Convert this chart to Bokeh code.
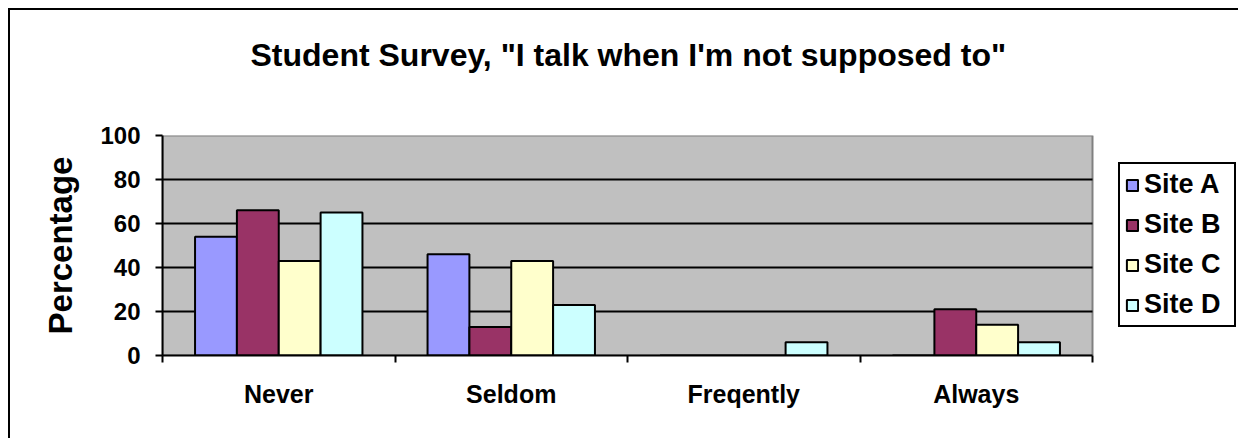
from bokeh.plotting import figure
from bokeh.models import (Range1d, LinearAxis, FixedTicker, Legend, LegendItem,
                          ColumnDataSource, Title)
from bokeh.transform import dodge
from bokeh.embed import file_html
from bokeh.resources import INLINE

# Survey answers per site (percent of students)
categories = ["Never", "Seldom", "Freqently", "Always"]
sites = ["Site A", "Site B", "Site C", "Site D"]
site_a = [54, 46, 0, 0]
site_b = [66, 13, 0, 21]
site_c = [43, 43, 0, 14]
site_d = [65, 23, 6, 6]
y_ticks = [0, 20, 40, 60, 80, 100]
grid_levels = [20, 40, 60, 80]

colors = ["#9999FF", "#993366", "#FFFFCC", "#CCFFFF"]
FONT = "Liberation Sans"
n = len(categories)

# Canvas layout (px): the frame runs on to the right so the legend can sit
# inside it, beside the grey plotting area that holds the categories.
CANVAS_W, CANVAS_H = 1230, 430
LEFT, RIGHT, TOP, BOTTOM = 152, 4, 125, 85
AREA_PX = 930                       # width of the grey plotting area
frame_px = CANVAS_W - LEFT - RIGHT
x_end = n * frame_px / AREA_PX

# each category occupies one unit slot on the x axis; its centre is at i + 0.5
centers = [i + 0.5 for i in range(n)]
source = ColumnDataSource(data=dict(pos=centers, a=site_a, b=site_b, c=site_c, d=site_d))

p = figure(
    width=CANVAS_W, height=CANVAS_H,
    x_range=Range1d(0, x_end),
    y_range=Range1d(0, 100),
    x_axis_location=None, y_axis_location=None,
    output_backend="svg", toolbar_location=None,
    min_border_left=LEFT, min_border_right=RIGHT,
    min_border_top=TOP, min_border_bottom=BOTTOM,
    background_fill_color="white",
    outline_line_color=None,
)
p.margin = (8, 0, 0, 8)
p.styles = {"border-top": "2px solid black", "border-left": "2px solid black"}

# Heading, with a blank spacer panel between it and the frame
p.title.text = "Student Survey, \"I talk when I'm not supposed to\""
p.title.align = "left"
p.title.offset = 88
p.title.standoff = 0
p.title.text_color = "black"
p.title.text_font = FONT
p.title.text_font_style = "bold"
p.title.text_font_size = "32px"
spacer = Title(text=" ", text_font_size="1px", standoff=60)
p.add_layout(spacer, "above")

# Grey plotting area and its grid lines
p.quad(left=0, right=n, bottom=y_ticks[0], top=y_ticks[-1],
       fill_color="#C0C0C0", line_color="#808080", line_width=2)
p.segment(x0=[0] * len(grid_levels), x1=[n] * len(grid_levels),
          y0=grid_levels, y1=grid_levels, line_color="black", line_width=2)
p.xgrid.grid_line_color = None
p.ygrid.grid_line_color = None

# Bars, four per category
offsets = [-0.27, -0.09, 0.09, 0.27]
renderers = []
for col, off, color in zip(["a", "b", "c", "d"], offsets, colors):
    r = p.vbar(x=dodge("pos", off), top=col, width=0.18,
               source=source, fill_color=color, line_color="black", line_width=2)
    renderers.append(r)

# Y axis
yaxis = LinearAxis(ticker=FixedTicker(ticks=y_ticks))
yaxis.axis_label = "Percentage"
yaxis.axis_label_text_color = "black"
yaxis.axis_label_text_font = FONT
yaxis.axis_label_text_font_style = "bold"
yaxis.axis_label_text_font_size = "33px"
yaxis.axis_label_standoff = 18
yaxis.major_label_text_color = "black"
yaxis.major_label_text_font = FONT
yaxis.major_label_text_font_style = "bold"
yaxis.major_label_text_font_size = "24px"
yaxis.major_label_standoff = 15
yaxis.major_tick_out = 7
yaxis.major_tick_in = 0
yaxis.major_tick_line_width = 2
yaxis.minor_tick_line_color = None
yaxis.axis_line_width = 2
p.add_layout(yaxis, "left")

# Tick marks on the slot boundaries
tick_axis = LinearAxis(ticker=FixedTicker(ticks=list(range(n + 1))), bounds=(0, n))
tick_axis.major_label_text_font_size = "0px"
tick_axis.major_label_text_color = None
tick_axis.major_tick_out = 7
tick_axis.major_tick_in = 0
tick_axis.major_tick_line_width = 2
tick_axis.minor_tick_line_color = None
tick_axis.axis_line_width = 2
p.add_layout(tick_axis, "below")

# Category names at the slot centres
cat_axis = LinearAxis(ticker=FixedTicker(ticks=centers),
                      major_label_overrides={c: name for c, name in zip(centers, categories)})
cat_axis.axis_line_color = None
cat_axis.major_tick_line_color = None
cat_axis.minor_tick_line_color = None
cat_axis.major_label_text_color = "black"
cat_axis.major_label_text_font = FONT
cat_axis.major_label_text_font_style = "bold"
cat_axis.major_label_text_font_size = "25px"
cat_axis.major_label_standoff = 11
p.add_layout(cat_axis, "below")

# Legend to the right of the grey area
legend = Legend(
    items=[LegendItem(label=s, renderers=[r]) for s, r in zip(sites, renderers)],
    location=(AREA_PX + 26, 28), margin=0,
    label_text_color="black",
    label_text_font=FONT, label_text_font_style="bold", label_text_font_size="27px",
    glyph_width=14, glyph_height=14, label_standoff=5, label_width=85,
    spacing=9, padding=5, label_height=29,
    border_line_color="black", border_line_width=2, border_line_alpha=1,
    background_fill_color="white", background_fill_alpha=1,
)
p.add_layout(legend, "center")

open("out.html", "w").write(file_html(p, INLINE))
